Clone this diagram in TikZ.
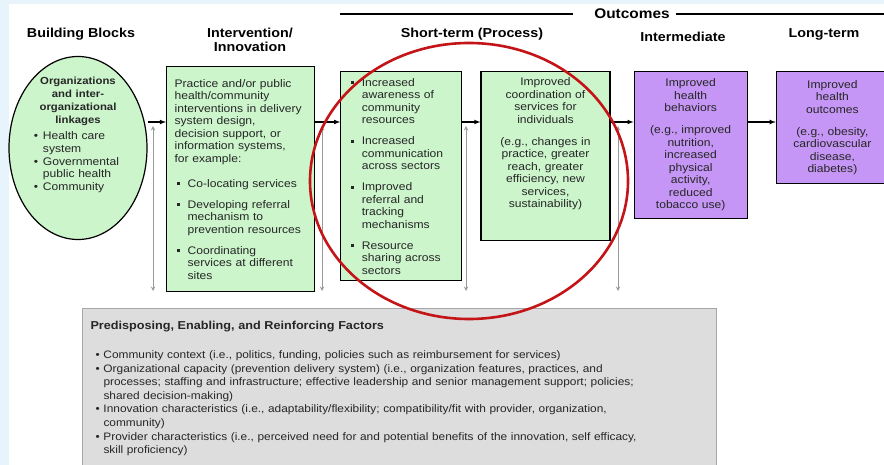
\documentclass[tikz,border=0pt]{standalone}
\usepackage{fontspec}
\setmainfont{Liberation Sans}[FakeStretch=1.1]
\usetikzlibrary{positioning,shapes.geometric}

\definecolor{boxgreen}{RGB}{204,245,204}
\definecolor{boxpurple}{RGB}{197,150,245}
\definecolor{factgray}{RGB}{221,221,221}
\definecolor{ringred}{RGB}{196,20,24}
\definecolor{slideblue}{RGB}{232,244,252}
\definecolor{inkgray}{RGB}{38,38,38}

\tikzstyle{colhead} = [font=\fontsize{13}{14}\selectfont\bfseries, text=black, align=center]
\tikzstyle{org} = [draw, ellipse, line width=1.2pt, fill=boxgreen, minimum width=138pt, minimum height=183pt]
\tikzstyle{orgtext} = [text=inkgray, font=\fontsize{11}{12.8}\selectfont, text width=88pt, align=left, inner sep=0pt]
\tikzstyle{grbox} = [draw, line width=1.2pt, fill=boxgreen, text=inkgray, font=\fontsize{11}{12.5}\selectfont, inner xsep=8pt, inner ysep=6pt]
\tikzstyle{ppbox} = [grbox, fill=boxpurple, align=center]
\tikzstyle{factbox} = [draw=gray!70, line width=1pt, fill=factgray, text=inkgray, font=\fontsize{10.8}{13.6}\selectfont, text width=618pt, align=left, inner xsep=8pt, inner ysep=13pt]
\tikzstyle{flow} = [->, >=latex, line width=1.1pt]
\tikzstyle{fb} = [<->, >=stealth, draw=gray!80, line width=1pt]
\tikzstyle{ring} = [draw=ringred, ellipse, line width=2.6pt, minimum width=318pt, minimum height=276pt]
\tikzstyle{headline} = [line width=2.4pt]

\newcommand{\orghd}[1]{\makebox[88pt]{\fontsize{10.3}{12.5}\selectfont\bfseries #1}}
\newcommand{\dotb}{\makebox[9pt][l]{\textbullet}}
\newcommand{\sqb}{\hspace*{2pt}\makebox[11pt][l]{\rule[2pt]{3pt}{3pt}}}
\newcommand{\sqi}{\hspace*{13pt}}
\newcommand{\fdot}{\hspace*{5pt}\makebox[8pt][l]{\textbullet}}
\newcommand{\fin}{\hspace*{13pt}}

\begin{document}
\begin{tikzpicture}[x=1pt, y=-1pt, >=latex, thick]

  % slide background, fixes the page size too
  \fill [slideblue] (0,0) rectangle (884,465);
  \fill [white] (9,4) rectangle (884,465);
  \useasboundingbox (0,0) rectangle (884,465);

  % column titles
  \node [colhead] (hbb) at (81,34) {Building Blocks};
  \node [colhead] (hint) at (250,40) {Intervention/\\Innovation};
  \node [colhead] (hst) at (472,34) {Short-term (Process)};
  \node [colhead] (hmid) at (683,37) {Intermediate};
  \node [colhead] (hlong) at (824,34) {Long-term};
  \node [colhead, font=\fontsize{14}{16}\selectfont\bfseries] (hout) at (632,14) {Outcomes};
  \coordinate (outL) at (340,14);
  \coordinate (outR) at (884,14);
  \draw [headline] (outL) -- ([xshift=-18pt]hout.west);
  \draw [headline] ([xshift=3pt]hout.east) -- (outR);

  % building blocks
  \node [org] (org) at (78,148) {};
  \node [orgtext, below=21pt of org.north] (orgtxt) {%
    \orghd{Organizations}\\
    \orghd{and inter-}\\
    \orghd{organizational}\\
    \orghd{linkages}\\[3.5pt]
    \dotb Health care\\ \hspace*{9pt}system\\
    \dotb Governmental\\ \hspace*{9pt}public health\\
    \dotb Community};

  % intervention
  \node [grbox, align=left, text width=132pt, minimum height=225pt, anchor=north west] (interv) at (166,66) {%
    Practice and/or public\\
    health/community\\
    interventions in delivery\\
    system design,\\
    decision support, or\\
    information systems,\\
    for example:\\[12.5pt]
    \sqb Co-locating services\\[8.5pt]
    \sqb Developing referral\\
    \sqi mechanism to\\
    \sqi prevention resources\\[8.5pt]
    \sqb Coordinating\\
    \sqi services at different\\
    \sqi sites};

  % outcomes
  \node [grbox, align=left, text width=105pt, minimum height=209pt, below right=5pt and 25pt of interv.north east] (proc) {%
    \sqb Increased\\
    \sqi awareness of\\
    \sqi community\\
    \sqi resources\\[8.5pt]
    \sqb Increased\\
    \sqi communication\\
    \sqi across sectors\\[8.5pt]
    \sqb Improved\\
    \sqi referral and\\
    \sqi tracking\\
    \sqi mechanisms\\[8.5pt]
    \sqb Resource\\
    \sqi sharing across\\
    \sqi sectors};
  \node [grbox, align=center, text width=113pt, text depth=149pt, below right=0pt and 18pt of proc.north east] (coord) {%
    Improved\\ coordination of\\ services for\\ individuals\\[9.5pt]
    (e.g., changes in\\ practice, greater\\ reach, greater\\ efficiency, new\\ services,\\ sustainability)};
  \node [ppbox, text width=97pt, minimum height=147pt, below right=0pt and 23pt of coord.north east] (behav) {%
    Improved\\ health\\ behaviors\\[9.5pt]
    (e.g., improved\\ nutrition,\\ increased\\ physical\\ activity,\\ reduced\\ tobacco use)};
  \node [ppbox, text width=96pt, minimum height=112pt, below right=0pt and 28pt of behav.north east] (health) {%
    Improved\\ health\\ outcomes\\[9.5pt]
    (e.g., obesity,\\ cardiovascular\\ disease,\\ diabetes)};

  % main chain
  \coordinate (lvl) at (0,122);
  \draw [flow] (org.east |- lvl) -- (interv.west |- lvl);
  \draw [flow] (interv.east |- lvl) -- (proc.west |- lvl);
  \draw [flow] (proc.east |- lvl) -- (coord.west |- lvl);
  \draw [flow] (coord.east |- lvl) -- (behav.west |- lvl);
  \draw [flow] (behav.east |- lvl) -- (health.west |- lvl);

  % links to the factors
  \foreach \x [count=\i] in {153,322,466,618} {
    \coordinate (fbtop\i) at (\x,126);
    \coordinate (fbbot\i) at (\x,291);
    \draw [fb] (fbtop\i) -- (fbbot\i);
  }

  \node [factbox, anchor=north west] (fact) at (82,308) {%
    {\fontsize{11.5}{13}\selectfont\bfseries Predisposing, Enabling, and Reinforcing Factors}\\[15pt]
    \fdot Community context (i.e., politics, funding, policies such as reimbursement for services)\\
    \fdot Organizational capacity (prevention delivery system) (i.e., organization features, practices, and\\
    \fin processes; staffing and infrastructure; effective leadership and senior management support; policies;\\
    \fin shared decision-making)\\
    \fdot Innovation characteristics (i.e., adaptability/flexibility; compatibility/fit with provider, organization,\\
    \fin community)\\
    \fdot Provider characteristics (i.e., perceived need for and potential benefits of the innovation, self efficacy,\\
    \fin skill proficiency)};

  % highlight
  \node [ring] (hilite) at (469,181) {};

\end{tikzpicture}
\end{document}
